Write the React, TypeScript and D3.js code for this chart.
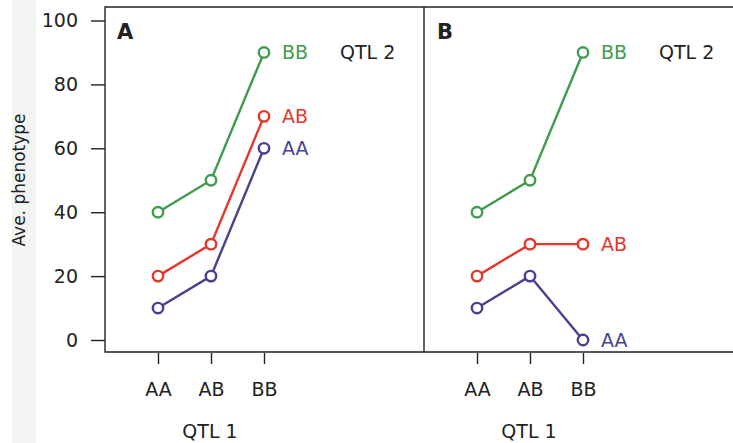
import React, { useEffect, useRef } from "react";
import * as d3 from "d3";

// QTL 1 genotypes along x, one line per QTL 2 genotype
const qtl1 = ["AA", "AB", "BB"];
const qtl2 = ["AA", "AB", "BB"];
const yTicks = [0, 20, 40, 60, 80, 100];

const panelA_AA = [10, 20, 60];
const panelA_AB = [20, 30, 70];
const panelA_BB = [40, 50, 90];

const panelB_AA = [10, 20, 0];
const panelB_AB = [20, 30, 30];
const panelB_BB = [40, 50, 90];

const colors: Record<string, string> = {
  AA: "#4b3f8e",
  AB: "#e2392d",
  BB: "#3f9b4e"
};

const W = 733;
const H = 443;
const FONT = "'DejaVu Sans', Arial, sans-serif";
const FS = 19;

export default function App() {
  const ref = useRef<SVGSVGElement>(null);

  useEffect(() => {
    const svg = d3.select(ref.current);
    svg.selectAll("*").remove();

    const top = 7;
    const bottom = 352;
    const left = 105;
    const panelW = 319;

    const y = d3.scaleLinear().domain([0, 100]).range([340, 20.5]);

    // faint scan strip on the left
    svg.append("rect").attr("x", 12).attr("y", 0).attr("width", 24).attr("height", H).attr("fill", "#f2f4f2");

    const panels = [
      { label: "A", series: [panelA_AA, panelA_AB, panelA_BB] },
      { label: "B", series: [panelB_AA, panelB_AB, panelB_BB] }
    ];

    // frame
    svg.append("path")
      .attr("d", `M${W + 5},${top}H${left}V${bottom}H${W + 5}M${left + panelW},${top}V${bottom}`)
      .attr("fill", "none")
      .attr("stroke", "#222")
      .attr("stroke-width", 1.4);

    // y axis
    const yAxis = svg.append("g")
      .attr("transform", `translate(${left},0)`)
      .call(d3.axisLeft(y).tickValues(yTicks).tickSize(14).tickPadding(13));
    yAxis.select(".domain").remove();
    yAxis.selectAll("line").attr("stroke", "#222").attr("stroke-width", 1.4);
    yAxis.selectAll("text").attr("font-size", FS).attr("font-family", FONT).attr("fill", "#222");

    svg.append("text")
      .attr("transform", `translate(25,180) rotate(-90)`)
      .attr("text-anchor", "middle")
      .attr("font-size", 17)
      .attr("font-family", FONT)
      .attr("fill", "#222")
      .text("Ave. phenotype");

    panels.forEach((p, i) => {
      const x0 = left + i * panelW;
      const x = d3.scalePoint<string>().domain(qtl1).range([x0 + 53, x0 + 159]);
      const g = svg.append("g");

      const xAxis = g.append("g")
        .attr("transform", `translate(0,${bottom + 1})`)
        .call(d3.axisBottom(x).tickSize(11).tickPadding(19));
      xAxis.select(".domain").remove();
      xAxis.selectAll("line").attr("stroke", "#222").attr("stroke-width", 1.4);
      xAxis.selectAll("text").attr("font-size", FS).attr("font-family", FONT).attr("fill", "#222");

      g.append("text")
        .attr("x", x0 + 105)
        .attr("y", 438)
        .attr("text-anchor", "middle")
        .attr("font-size", FS)
        .attr("font-family", FONT)
        .attr("fill", "#222")
        .text("QTL 1");

      g.append("text")
        .attr("x", x0 + 12 + (i ? 1 : 0))
        .attr("y", 39)
        .style("font-size", "21px")
        .style("font-weight", "bold")
        .attr("font-family", FONT)
        .attr("fill", "#222")
        .text(p.label);

      const line = d3.line<number>()
        .x((_, j) => x(qtl1[j])!)
        .y(d => y(d));

      p.series.forEach((vals, k) => {
        const name = qtl2[k];
        const c = colors[name];
        g.append("path")
          .attr("d", line(vals))
          .attr("fill", "none")
          .attr("stroke", c)
          .attr("stroke-width", 2.4);
        g.selectAll(null)
          .data(vals)
          .enter()
          .append("circle")
          .attr("cx", (_, j) => x(qtl1[j])!)
          .attr("cy", d => y(d))
          .attr("r", 5.2)
          .attr("fill", "#fff")
          .attr("stroke", c)
          .attr("stroke-width", 2.4);
        g.append("text")
          .attr("x", x(qtl1[2])! + 18)
          .attr("y", y(vals[2]))
          .attr("dy", "0.36em")
          .attr("font-size", FS)
          .attr("font-family", FONT)
          .attr("fill", c)
          .text(name);
      });

      g.append("text")
        .attr("x", x0 + 235)
        .attr("y", y(p.series[2][2]))
        .attr("dy", "0.36em")
        .attr("font-size", FS)
        .attr("font-family", FONT)
        .attr("fill", "#222")
        .text("QTL 2");
    });
  }, []);

  return (
    <svg
      ref={ref}
      width={W}
      height={H}
      style={{ position: "absolute", left: 0, top: 0, background: "#fff" }}
    />
  );
}
